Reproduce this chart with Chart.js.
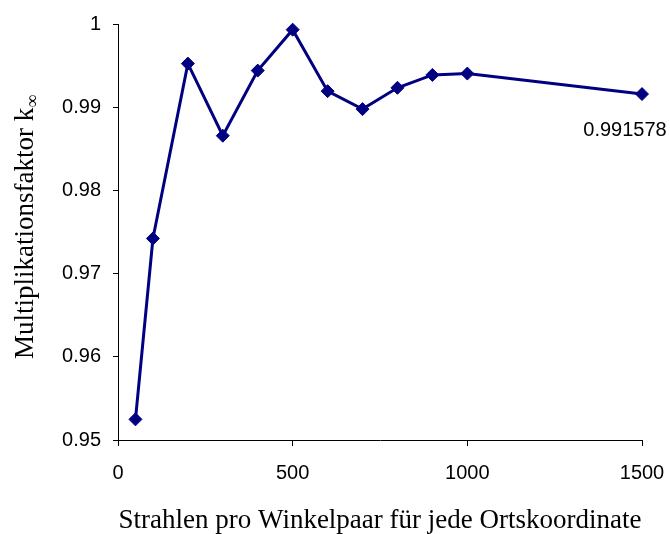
<!DOCTYPE html>
<html>
<head>
<meta charset="utf-8">
<script src="https://cdn.jsdelivr.net/npm/chart.js@4"></script>
<style>
    html, body { margin: 0; padding: 0; background: #fff; }
    #wrap { width: 670px; height: 534px; }
</style>
</head>
<body>
<div id="wrap"><canvas id="kinf"></canvas></div>
<script>
const strahlen = [50, 100, 200, 300, 400, 500, 600, 700, 800, 900, 1000, 1500];
const kInf = [0.95248, 0.97422, 0.99524, 0.98657, 0.9944, 0.99932, 0.99193, 0.98977, 0.99233, 0.99388, 0.99404, 0.991578];
const xTicks = [0, 500, 1000, 1500];
const yTicks = [0.95, 0.96, 0.97, 0.98, 0.99, 1];
const lastLabel = '0.991578';

const navy = '#000080';

// y title with the subscript infinity
const yTitle = {
    id: 'yTitle',
    afterDraw(chart) {
        const ctx = chart.ctx;
        const main = 'Multiplikationsfaktor k';
        const sub = '\u221E';
        ctx.save();
        ctx.font = '27px "Liberation Serif"';
        const w1 = ctx.measureText(main).width;
        ctx.font = '18px "Liberation Serif"';
        const w2 = ctx.measureText(sub).width;
        const total = w1 + w2;
        ctx.translate(33, 227);
        ctx.rotate(-Math.PI / 2);
        ctx.fillStyle = '#000';
        ctx.textBaseline = 'alphabetic';
        ctx.textAlign = 'left';
        ctx.font = '27px "Liberation Serif"';
        ctx.fillText(main, -total / 2, 0);
        ctx.font = '18px "Liberation Serif"';
        ctx.fillText(sub, -total / 2 + w1, 5);
        ctx.restore();
    }
};

// value label under the last point
const lastValue = {
    id: 'lastValue',
    afterDatasetsDraw(chart) {
        const meta = chart.getDatasetMeta(0);
        const pt = meta.data[meta.data.length - 1];
        const ctx = chart.ctx;
        ctx.save();
        ctx.font = '20px "Liberation Sans"';
        ctx.fillStyle = '#000';
        ctx.textAlign = 'center';
        ctx.textBaseline = 'middle';
        ctx.fillText(lastLabel, pt.x - 17, pt.y + 36);
        ctx.restore();
    }
};

new Chart(
    document.getElementById('kinf'),
    {
        type: 'line',
        data: {
            datasets: [
                {
                    data: strahlen.map((x, i) => ({x: x, y: kInf[i]})),
                    borderColor: navy,
                    backgroundColor: navy,
                    borderWidth: 3,
                    pointStyle: 'rectRot',
                    pointRadius: 6.5,
                    pointHoverRadius: 6.5,
                    pointBackgroundColor: navy,
                    pointBorderColor: navy,
                    pointBorderWidth: 1,
                    tension: 0,
                    fill: false,
                    clip: false
                }
            ]
        },
        options: {
            responsive: true,
            maintainAspectRatio: false,
            animation: false,
            layout: {
                padding: {top: 23, right: 28, left: 0, bottom: 0}
            },
            plugins: {
                legend: {display: false},
                tooltip: {enabled: false}
            },
            scales: {
                x: {
                    type: 'linear',
                    min: 0,
                    max: 1500,
                    afterBuildTicks: (scale) => {
                        scale.ticks = xTicks.map(v => ({value: v}));
                    },
                    afterFit: (scale) => {
                        scale.height = 94;
                        scale.paddingLeft = 0;
                        scale.paddingRight = 0;
                    },
                    grid: {
                        display: true,
                        drawOnChartArea: false,
                        drawTicks: true,
                        tickLength: 6,
                        color: '#000',
                        tickColor: '#000'
                    },
                    border: {display: true, color: '#000', width: 1},
                    ticks: {
                        color: '#000',
                        padding: 15,
                        maxRotation: 0,
                        font: {family: 'Liberation Sans', size: 20},
                        callback: (v) => String(v)
                    },
                    title: {
                        display: true,
                        text: 'Strahlen pro Winkelpaar für jede Ortskoordinate',
                        color: '#000',
                        padding: {top: 0, bottom: 0},
                        font: {family: 'Liberation Serif', size: 27, lineHeight: 1}
                    }
                },
                y: {
                    type: 'linear',
                    min: 0.95,
                    max: 1,
                    afterBuildTicks: (scale) => {
                        scale.ticks = yTicks.map(v => ({value: v}));
                    },
                    afterFit: (scale) => { scale.width = 118; },
                    grid: {
                        display: true,
                        drawOnChartArea: false,
                        drawTicks: true,
                        tickLength: 5,
                        color: '#000',
                        tickColor: '#000'
                    },
                    border: {display: true, color: '#000', width: 1},
                    ticks: {
                        color: '#000',
                        padding: 12,
                        font: {family: 'Liberation Sans', size: 20},
                        callback: (v) => String(Math.round(v * 100) / 100)
                    }
                }
            }
        },
        plugins: [yTitle, lastValue]
    }
);
</script>
</body>
</html>
